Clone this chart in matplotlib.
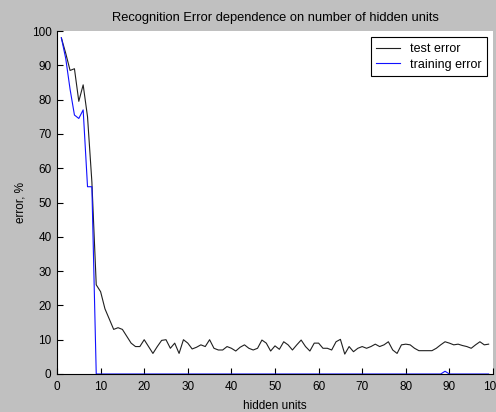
import numpy as np
import matplotlib
matplotlib.use("Agg")
import matplotlib.pyplot as plt

# number of hidden units in the network
hidden_units = np.arange(1, 100)

# recognition error on the test set, %
test_error = [98, 93.5, 88.5, 89, 79.5, 84.3, 75, 56, 26, 24,
              19, 16, 13, 13.5, 13, 11, 9, 8, 8, 10,
              8, 6, 8, 9.8, 10, 7.5, 9, 6, 10, 9,
              7.3, 7.8, 8.5, 8, 10, 7.5, 7, 7, 8, 7.5,
              6.7, 7.8, 8.5, 7.5, 7, 7.5, 9.9, 9, 6.7, 8.2,
              7.2, 9.4, 8.5, 7, 8.5, 9.9, 8, 6.7, 9, 9,
              7.5, 7.5, 7, 9.4, 10.1, 5.8, 8, 6.5, 7.5, 8,
              7.5, 8, 8.7, 8, 8.5, 9.4, 7, 6, 8.5, 8.7,
              8.5, 7.5, 6.8, 6.8, 6.8, 6.8, 7.5, 8.5, 9.4, 9,
              8.5, 8.7, 8.3, 8, 7.5, 8.5, 9.4, 8.5, 8.7]

# recognition error on the training set, %
train_error = [98, 92, 83, 75.5, 74.5, 77, 54.6, 54.6] + [0] * 91
train_error[88] = 0.8

plt.rcParams['font.family'] = ['Liberation Sans', 'DejaVu Sans']
plt.rcParams['font.size'] = 8.5

fig = plt.figure(figsize=(4.96, 4.12), dpi=100, facecolor='#c0c0c0')
ax = fig.add_axes([57 / 496, 38 / 412, 436 / 496, 343 / 412])
ax.set_facecolor('white')

ax.plot(hidden_units, test_error, color='#202020', lw=0.8, label='test error')
ax.plot(hidden_units, train_error, color='#1010ff', lw=0.8, label='training error')

ax.set_xlim(0, 100)
ax.set_ylim(0, 100)
ax.set_xticks(np.arange(0, 101, 10))
ax.set_yticks(np.arange(0, 101, 10))
ax.tick_params(direction='in', length=4, width=0.8, colors='black')
ax.tick_params(axis='x', pad=5)
ax.tick_params(axis='y', pad=4)
ax.spines['top'].set_visible(False)
ax.spines['right'].set_visible(False)

ax.set_title('Recognition Error dependence on number of hidden units',
             fontsize=9.3, pad=7)
ax.set_xlabel('hidden units', labelpad=5)
ax.set_ylabel('error, %', labelpad=4)

leg = ax.legend(loc='upper right', fancybox=False, framealpha=1,
                edgecolor='black', borderaxespad=0.5, handlelength=1.9,
                handletextpad=0.75, borderpad=0.45, labelspacing=0.3,
                prop={'size': 9})
leg.get_frame().set_linewidth(0.8)

fig.savefig('out.png', dpi=100, facecolor=fig.get_facecolor())
